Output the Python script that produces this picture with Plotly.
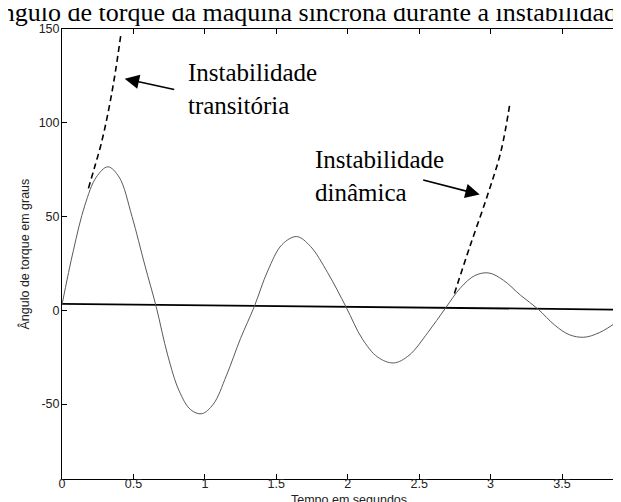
import plotly.graph_objects as go

# ---- data ----
t_main = [0.00, 0.08, 0.16, 0.24, 0.321, 0.40, 0.49, 0.58, 0.659, 0.74, 0.82, 0.90, 0.978,
          1.06, 1.15, 1.25, 1.344, 1.44, 1.54, 1.643, 1.74, 1.86, 1.99, 2.10, 2.21, 2.322,
          2.43, 2.56, 2.683, 2.79, 2.89, 2.987, 3.09, 3.21, 3.334, 3.45, 3.55, 3.653,
          3.76, 3.87, 3.962]
v_main = [3, 32, 56, 71, 76.5, 71, 50, 24, 2, -24, -43, -53, -55.2,
          -50, -35, -15, 1.6, 21, 35, 39.3, 34, 20, 1.5, -15, -25, -28.1,
          -24, -12, 1, 12, 18.5, 19.9, 16, 8, 0.5, -8, -13, -14.4,
          -12, -7, -2]

t_ref = [0.0, 3.962]
v_ref = [3.4, 0.3]

t_trans = [0.185, 0.227, 0.273, 0.32, 0.367, 0.412]
v_trans = [65, 76, 88.4, 104.4, 124, 147]

t_dyn = [2.747, 2.852, 2.98, 3.073, 3.136]
v_dyn = [9, 33.3, 61.7, 84.9, 110.7]

x_ticks = [0, 0.5, 1, 1.5, 2, 2.5, 3, 3.5]
x_ticklabels = ["0", "0.5", "1", "1.5", "2", "2.5", "3", "3.5"]
y_ticks = [-50, 0, 50, 100, 150]
y_ticklabels = ["-50", "0", "50", "100", "150"]

title_text = "Ângulo de torque da máquina síncrona durante a instabilidade"
xlabel = "Tempo em segundos"
ylabel = "Ângulo de torque em graus"
label_trans = "Instabilidade<br>transitória"
label_dyn = "Instabilidade<br>dinâmica"

SERIF = "Liberation Serif"
SANS = "Liberation Sans"

fig = go.Figure()
fig.add_trace(go.Scatter(x=t_ref, y=v_ref, mode="lines",
                         line=dict(color="#000000", width=1.8), hoverinfo="skip"))
fig.add_trace(go.Scatter(x=t_main, y=v_main, mode="lines",
                         line=dict(color="#5a5a5a", width=1, shape="spline", smoothing=1.0),
                         hoverinfo="skip"))
fig.add_trace(go.Scatter(x=t_trans, y=v_trans, mode="lines",
                         line=dict(color="#000000", width=1.6, dash="6px,4px", shape="spline"),
                         hoverinfo="skip"))
fig.add_trace(go.Scatter(x=t_dyn, y=v_dyn, mode="lines",
                         line=dict(color="#000000", width=1.6, dash="6px,4px", shape="spline"),
                         hoverinfo="skip"))

axis_common = dict(showgrid=False, zeroline=False, showline=True, linecolor="#000000",
                   linewidth=1, ticks="inside", ticklen=5, tickwidth=1, tickcolor="#000000",
                   mirror="ticks", automargin=False,
                   tickfont=dict(family=SANS, size=12.5, color="#222222"))

fig.update_xaxes(range=[0, 3.962], tickvals=x_ticks, ticktext=x_ticklabels,
                 ticklabelstandoff=-7, **axis_common)
fig.update_yaxes(range=[-90, 150], tickvals=y_ticks, ticktext=y_ticklabels,
                 ticklabelstandoff=-1, **axis_common)

annotations = [
    dict(text=title_text, xref="paper", yref="paper", x=0.43, y=1.036,
         xanchor="center", yanchor="middle", showarrow=False,
         font=dict(family=SERIF, size=26, color="#000000")),
    dict(text=ylabel, xref="paper", yref="paper", x=-0.068, y=0.5, textangle=-90,
         xanchor="center", yanchor="middle", showarrow=False,
         font=dict(family=SANS, size=12.5, color="#222222")),
    dict(text=xlabel, xref="paper", yref="paper", x=0.507, y=-0.046,
         xanchor="center", yanchor="middle", showarrow=False,
         font=dict(family=SANS, size=12.5, color="#222222")),
    dict(text=label_trans, x=0.866, y=118, xref="x", yref="y", xanchor="left",
         yanchor="middle", align="left", showarrow=False,
         font=dict(family=SERIF, size=25, color="#000000")),
    dict(text=label_dyn, x=1.755, y=71.7, xref="x", yref="y", xanchor="left",
         yanchor="middle", align="left", showarrow=False,
         font=dict(family=SERIF, size=25, color="#000000")),
    dict(text="", x=0.439, y=123.5, ax=0.796, ay=117.6, xref="x", yref="y",
         axref="x", ayref="y", showarrow=True, arrowhead=2, arrowsize=1.8,
         arrowwidth=1.6, arrowcolor="#000000"),
    dict(text="", x=2.924, y=61.7, ax=2.518, ay=69.7, xref="x", yref="y",
         axref="x", ayref="y", showarrow=True, arrowhead=2, arrowsize=1.8,
         arrowwidth=1.6, arrowcolor="#000000"),
]

fig.update_layout(width=621, height=502, margin=dict(l=54, r=1, t=21, b=31),
                  paper_bgcolor="#ffffff", plot_bgcolor="#ffffff", showlegend=False,
                  annotations=annotations)

fig.write_html("out.html")
